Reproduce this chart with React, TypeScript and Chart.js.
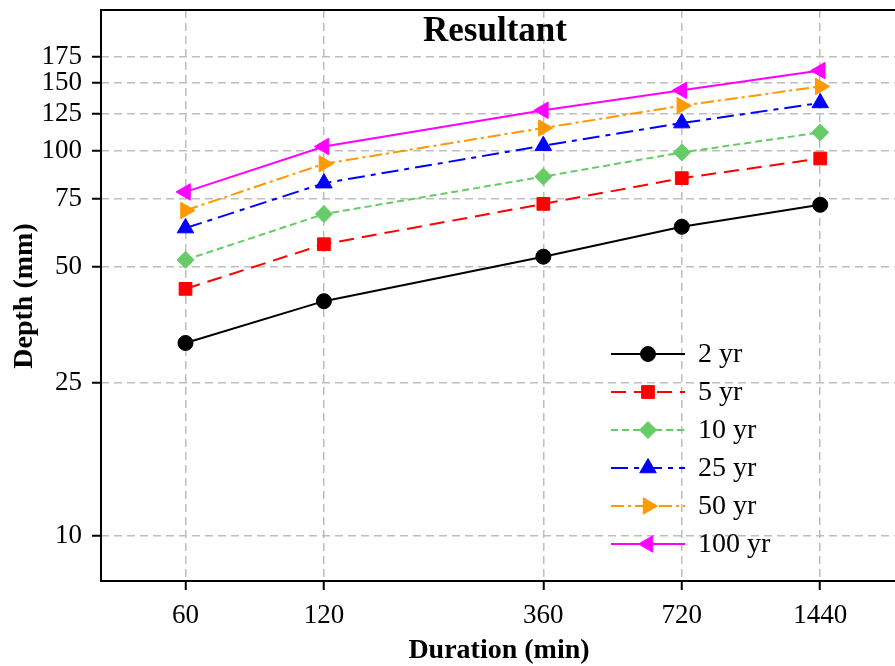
import React, { useEffect, useRef } from 'react';
import { Chart, registerables } from 'chart.js';
import { drawPoint } from 'chart.js/helpers';

Chart.register(...registerables);

// ---- data ----
const durations = [60, 120, 360, 720, 1440];
const seriesLabels = ['2 yr', '5 yr', '10 yr', '25 yr', '50 yr', '100 yr'];
const yr2 = [31.7, 40.7, 53.1, 63.5, 72.4];
const yr5 = [43.8, 57.2, 72.8, 84.9, 95.5];
const yr10 = [52.1, 68.5, 85.7, 99.0, 111.6];
const yr25 = [63.0, 82.4, 103.1, 118.0, 133.1];
const yr50 = [70.0, 92.5, 114.6, 130.9, 146.9];
const yr100 = [78.2, 102.6, 127.4, 143.5, 161.5];
const xTicks = [60, 120, 360, 720, 1440];
const yTicks = [10, 25, 50, 75, 100, 125, 150, 175];
const chartTitle = 'Resultant';
const xTitle = 'Duration (min)';
const yTitle = 'Depth (mm)';

const seriesValues = [yr2, yr5, yr10, yr25, yr50, yr100];
const colors = ['#000000', '#ff0000', '#66cc66', '#0000ff', '#ff9900', '#ff00ff'];
const dashes = [[], [15, 8], [7, 4], [17, 6, 5, 6], [13, 4, 3, 4], []];
const pointStyles = ['circle', 'rect', 'rectRot', 'triangle', 'triangle', 'triangle'];
const pointRotations = [0, 0, 0, 0, 90, -90];
const pointRadii = [7.5, 9, 8.5, 9.5, 9.5, 9.5];

const FONT = 'Liberation Serif, Times New Roman, serif';

const decorPlugin = {
  id: 'decor',
  afterDatasetsDraw(chart: any) {
    const { ctx, chartArea } = chart;
    const { left, right, top, bottom } = chartArea;
    ctx.save();
    // frame
    ctx.strokeStyle = '#000';
    ctx.lineWidth = 2;
    ctx.setLineDash([]);
    ctx.beginPath();
    ctx.moveTo(right + 5, top);
    ctx.lineTo(left, top);
    ctx.lineTo(left, bottom);
    ctx.lineTo(right + 5, bottom);
    ctx.stroke();

    // title
    ctx.fillStyle = '#000';
    ctx.font = `bold 35px ${FONT}`;
    ctx.textAlign = 'center';
    ctx.textBaseline = 'alphabetic';
    ctx.fillText(chartTitle, 495, 41);

    // axis titles
    ctx.font = `bold 28px ${FONT}`;
    ctx.fillText(xTitle, 499, 658);
    ctx.save();
    ctx.translate(32, 296);
    ctx.rotate(-Math.PI / 2);
    ctx.fillText(yTitle, 0, 0);
    ctx.restore();

    // legend
    const lx0 = 611, lx1 = 685, lmx = 648, tx = 698;
    const rowY = [354, 392, 430, 468, 506, 544];
    chart.data.datasets.forEach((ds: any, i: number) => {
      const y = rowY[i];
      ctx.strokeStyle = ds.borderColor;
      ctx.lineWidth = 2;
      ctx.setLineDash(ds.borderDash || []);
      ctx.beginPath();
      ctx.moveTo(lx0, y);
      ctx.lineTo(lx1, y);
      ctx.stroke();
      ctx.setLineDash([]);
      ctx.fillStyle = ds.pointBackgroundColor;
      ctx.strokeStyle = ds.pointBorderColor;
      ctx.lineWidth = 1;
      drawPoint(ctx, {
        pointStyle: ds.pointStyle,
        radius: ds.pointRadius,
        rotation: ds.pointRotation,
        borderWidth: 1,
      } as any, lmx, y);
      ctx.fillStyle = '#000';
      ctx.font = `28px ${FONT}`;
      ctx.textAlign = 'left';
      ctx.textBaseline = 'middle';
      ctx.fillText(ds.label, tx, y + 1);
    });
    ctx.restore();
  },
};

export default function App() {
  const ref = useRef<HTMLCanvasElement>(null);
  useEffect(() => {
    if (!ref.current) return;
    Chart.defaults.font.family = FONT;
    const datasets = seriesValues.map((vals, i) => ({
      label: seriesLabels[i],
      data: durations.map((d, j) => ({ x: d, y: vals[j] })),
      borderColor: colors[i],
      backgroundColor: colors[i],
      pointBackgroundColor: colors[i],
      pointBorderColor: colors[i],
      borderWidth: 2,
      borderDash: dashes[i],
      pointStyle: pointStyles[i],
      pointRotation: pointRotations[i],
      pointRadius: pointRadii[i],
      pointBorderWidth: 1,
      tension: 0,
      fill: false,
    }));
    const gridCommon = {
      color: '#bebebe',
      lineWidth: 1.5,
      tickLength: 9,
      tickColor: '#000',
      tickWidth: 2,
      tickBorderDash: [0, 0],
      drawTicks: true,
    };
    const borderCommon = { display: false, dash: [8, 5] };
    const chart = new Chart(ref.current, {
      type: 'line',
      data: { datasets } as any,
      options: {
        animation: false,
        responsive: false,
        layout: { autoPadding: false, padding: { top: 10, right: 0, left: 0, bottom: 0 } },
        plugins: { legend: { display: false }, title: { display: false }, tooltip: { enabled: false } },
        scales: {
          x: {
            type: 'logarithmic',
            min: 39.3,
            max: 2094,
            border: borderCommon,
            grid: gridCommon as any,
            ticks: {
              color: '#000',
              font: { size: 27, family: FONT },
              padding: 10,
              maxRotation: 0,
              autoSkip: false,
              callback: (v: any) => String(v),
            },
            afterBuildTicks: (scale: any) => {
              scale.ticks = xTicks.map((v) => ({ value: v }));
            },
            afterFit: (scale: any) => {
              scale.height = 85;
              scale.paddingLeft = 0;
              scale.paddingRight = 0;
              scale.paddingTop = 0;
              scale.paddingBottom = 0;
            },
          },
          y: {
            type: 'logarithmic',
            min: 7.64,
            max: 232,
            border: borderCommon,
            grid: gridCommon as any,
            ticks: {
              color: '#000',
              font: { size: 27, family: FONT },
              padding: 10,
              autoSkip: false,
              callback: (v: any) => String(v),
            },
            afterBuildTicks: (scale: any) => {
              scale.ticks = yTicks.map((v) => ({ value: v }));
            },
            afterFit: (scale: any) => {
              scale.width = 101;
              scale.paddingLeft = 0;
              scale.paddingRight = 0;
              scale.paddingTop = 0;
              scale.paddingBottom = 0;
            },
          },
        },
      } as any,
      plugins: [decorPlugin],
    });
    return () => chart.destroy();
  }, []);
  return (
    <div style={{ position: 'absolute', left: 0, top: 0, width: 895, height: 666, background: '#fff' }}>
      <canvas ref={ref} width={895} height={666} />
    </div>
  );
}
